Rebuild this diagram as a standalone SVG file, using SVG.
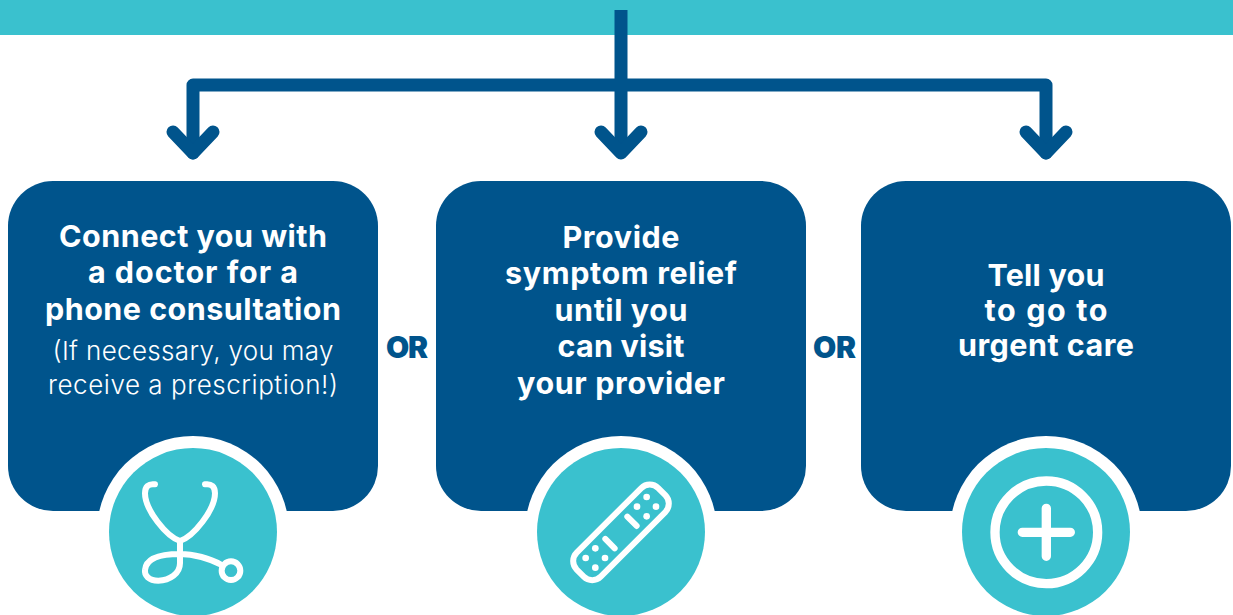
<svg xmlns="http://www.w3.org/2000/svg" width="1233" height="615" viewBox="0 0 1233 615">
<style>
.box{fill:#00548c}
.halo{fill:#fff}
.disc{fill:#3ac1ce}
.line{fill:none;stroke:#00548c;stroke-width:13;stroke-linecap:round;stroke-linejoin:round}
.ic{fill:none;stroke:#fff;stroke-width:18;stroke-linecap:round;stroke-linejoin:round}
.dot{fill:#fff}
text{font-family:"Inter","Liberation Sans",sans-serif;text-anchor:middle}
.h{font-size:30.5px;font-weight:700;fill:#fff}
.s{font-size:26px;font-weight:300;fill:#fff}
.or{font-size:30px;font-weight:900;fill:#00548c}
</style>
<rect id="top-bar" x="0" y="0" width="1233" height="35" fill="#3ac1ce"/>
<g id="connectors">
<path class="line" style="stroke-linecap:butt" d="M621,10V153"/>
<path class="line" d="M193,153V85H1046V153"/>
<path class="line" d="M173,132L193,153L213,132M601,132L621,153L641,132M1026,132L1046,153L1066,132"/>
</g>
<g id="node-1">
<rect class="box" x="8" y="181" width="370" height="330" rx="45"/>
<text class="h" x="193" y="247" textLength="268">Connect you with</text>
<text class="h" x="193" y="283" textLength="210">a doctor for a</text>
<text class="h" x="193" y="320" textLength="296">phone consultation</text>
<text class="s" x="193" y="360" textLength="281">(If necessary, you may</text>
<text class="s" x="193" y="394" textLength="290">receive a prescription!)</text>
<circle class="halo" cx="193" cy="532" r="96"/>
<circle class="disc" cx="193" cy="532" r="84"/>
<g transform="translate(90 430) scale(.3333)">
<path class="ic" d="M195,163C175,160 165,170 165,190C165,240 230,320 270,333C310,320 375,240 375,190C375,170 365,160 345,163"/>
<path class="ic" d="M270,333V400C270,430 240,452 205,452C175,452 163,435 165,420C168,385 210,372 270,372C310,372 360,385 395,405"/>
<circle class="ic" cx="423" cy="422" r="28"/>
</g>
</g>
<g id="or-1"><text class="or" x="407" y="358" textLength="42">OR</text></g>
<g id="node-2">
<rect class="box" x="436" y="181" width="370" height="330" rx="45"/>
<text class="h" x="621" y="248" textLength="117">Provide</text>
<text class="h" x="621" y="284" textLength="232">symptom relief</text>
<text class="h" x="621" y="321" textLength="133">until you</text>
<text class="h" x="621" y="357" textLength="127">can visit</text>
<text class="h" x="621" y="394" textLength="208">your provider</text>
<circle class="halo" cx="621" cy="532" r="96"/>
<circle class="disc" cx="621" cy="532" r="84"/>
<g transform="translate(520 430) scale(.3333)">
<rect class="ic" x="130" y="256" width="346" height="102" rx="36" transform="rotate(-45 303 307)"/>
<path class="ic" d="M322,260L350,288M256,327L284,355"/>
<circle class="dot" cx="380" cy="201" r="10"/><circle class="dot" cx="351" cy="230" r="10"/><circle class="dot" cx="408" cy="230" r="10"/><circle class="dot" cx="380" cy="259" r="10"/>
<circle class="dot" cx="226" cy="355" r="10"/><circle class="dot" cx="197" cy="384" r="10"/><circle class="dot" cx="255" cy="384" r="10"/><circle class="dot" cx="226" cy="413" r="10"/>
</g>
</g>
<g id="or-2"><text class="or" x="834.500" y="358" textLength="43">OR</text></g>
<g id="node-3">
<rect class="box" x="861" y="181" width="370" height="330" rx="45"/>
<text class="h" x="1046" y="286" textLength="117">Tell you</text>
<text class="h" x="1046" y="321" textLength="123">to go to</text>
<text class="h" x="1046" y="356" textLength="176">urgent care</text>
<circle class="halo" cx="1046" cy="532" r="96"/>
<circle class="disc" cx="1046" cy="532" r="84"/>
<g transform="translate(940 430) scale(.3333)">
<circle class="ic" style="stroke-width:28" cx="319" cy="307" r="154"/>
<path class="ic" style="stroke-width:28" d="M247,307H391M319,235V379"/>
</g>
</g>
</svg>
